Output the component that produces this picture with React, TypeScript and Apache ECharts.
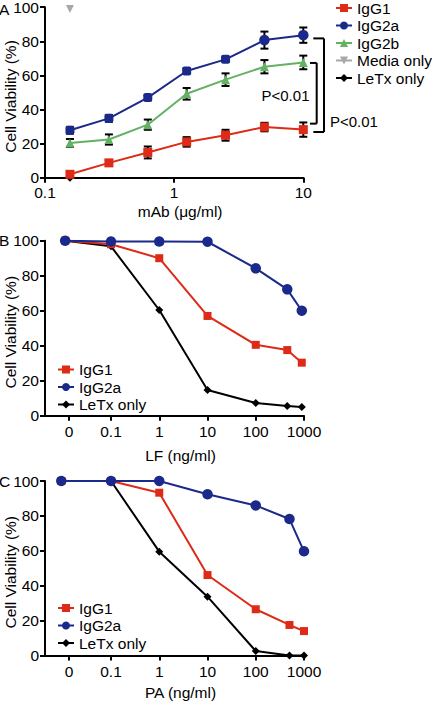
import React, { useEffect, useRef } from "react";
import * as echarts from "echarts";

const FONT = "'Liberation Sans', Arial, Helvetica, sans-serif";
const FS = 15.5;
const RED = "#dd2b17";
const BLUE = "#1b2a8a";
const GREEN = "#63b163";
const GRAY = "#a8a8a8";
const BLACK = "#000000";

// Panel A: viability vs mAb concentration
const doseA = [0.156, 0.3125, 0.625, 1.25, 2.5, 5, 10];
const igg1A = [2, 8.7, 14.8, 21, 24.9, 29.7, 28.2];
const igg1AErr = [1.5, 1.5, 3.5, 2.8, 3.2, 2.5, 4.2];
const igg2aA = [27.8, 34.8, 47, 62.6, 69.4, 80.7, 83.6];
const igg2aAErr = [2, 2, 1.5, 1.5, 1.5, 5, 4.5];
const igg2bA = [20.4, 22.4, 31.1, 49.2, 57.5, 65.1, 67.6];
const igg2bAErr = [2.3, 3, 3, 3.4, 3.7, 3.9, 4];
const mediaDoseA = [0.156];
const mediaA = [99];
const letxDoseA = [0.156];
const letxA = [0];
const bracketTop = [81.7, 67.3];
const bracketBottom = [26.8, 31.7];
const pLabelY = [32.7, 48.2];
const pLabels = ["P<0.01", "P<0.01"];

// Panel B: viability vs LF
const doseB = [0, 0.1, 1, 10, 100, 450, 900];
const igg1B = [100, 98, 90, 57, 40.5, 37.5, 30.3];
const igg2aB = [100, 99.5, 99.5, 99.4, 84.2, 72.2, 60];
const letxB = [100, 96.8, 60.4, 14.7, 7.3, 5.6, 5];

// Panel C: viability vs PA
const doseC = [0, 0.1, 1, 10, 100, 500, 1000];
const igg1C = [100, 100, 93.3, 46.1, 26.5, 17.5, 14];
const igg2aC = [100, 100, 100, 92.4, 86, 78.2, 59.7];
const letxC = [100, 100, 59.5, 33.7, 2.6, 0, 0];

const doseTickLabels = ["0", "0.1", "1", "10", "100", "1000"];
const yTicks = [0, 20, 40, 60, 80, 100];

// layout constants for the broken "0" position on log axes
const ZERO_TICK = -1.87;
const ZERO_PT_B = -1.95;
const ZERO_PT_C = -2.03;

const pos = (d: number, zero: number) => (d === 0 ? zero : Math.log10(d));
const tickPos = doseTickLabels.map((t) => (t === "0" ? ZERO_TICK : Math.log10(parseFloat(t))));

const axisLine = { show: true, onZero: false, lineStyle: { color: BLACK, width: 2 } };
const axisTick = { show: true, inside: false, length: 5, lineStyle: { color: BLACK, width: 2 } };
const labelStyle = { color: BLACK, fontSize: FS, fontFamily: FONT };

function yAxis(gridIndex: number) {
  return {
    type: "value",
    gridIndex,
    min: yTicks[0],
    max: yTicks[yTicks.length - 1],
    interval: 20,
    axisLine,
    axisTick,
    splitLine: { show: false },
    axisLabel: { ...labelStyle, margin: 6, lineHeight: 14 },
    name: "Cell Viability (%)",
    nameLocation: "middle",
    nameGap: 27,
    nameMoveOverlap: false,
    nameTextStyle: { ...labelStyle, padding: [0, 8, 0, 0] },
  };
}

function doseAxis(gridIndex: number, name: string, gap: number) {
  return {
    type: "value",
    gridIndex,
    min: -2.368,
    max: 3,
    axisLine,
    axisTick: { ...axisTick, customValues: tickPos },
    splitLine: { show: false },
    axisLabel: {
      ...labelStyle,
      margin: 8,
      customValues: tickPos,
      formatter: (v: number) => {
        const i = tickPos.findIndex((p) => Math.abs(p - v) < 1e-6);
        return i >= 0 ? doseTickLabels[i] : "";
      },
    },
    name,
    nameLocation: "middle",
    nameGap: gap,
    nameTextStyle: { ...labelStyle, padding: [0, 0, 0, 12] },
  };
}

function lineSeries(name: string, idx: number, data: any[], color: string, symbol: string, size: number, extra: any = {}) {
  return {
    type: "line",
    name,
    xAxisIndex: idx,
    yAxisIndex: idx,
    data,
    symbol,
    symbolSize: size,
    lineStyle: { color, width: 2 },
    itemStyle: { color },
    z: 3,
    ...extra,
  };
}

function errorSeries(x: number[], v: number[], e: number[]) {
  return {
    type: "custom",
    xAxisIndex: 0,
    yAxisIndex: 0,
    z: 2,
    clip: false,
    data: x.map((d, i) => [d, v[i] - e[i], v[i] + e[i]]),
    encode: { x: 0, y: [1, 2] },
    renderItem: (params: any, api: any) => {
      const lo = api.coord([api.value(0), api.value(1)]);
      const hi = api.coord([api.value(0), api.value(2)]);
      const st = { stroke: BLACK, lineWidth: 2 };
      const w = 4;
      return {
        type: "group",
        children: [
          { type: "line", shape: { x1: lo[0], y1: lo[1], x2: hi[0], y2: hi[1] }, style: st },
          { type: "line", shape: { x1: lo[0] - w, y1: lo[1], x2: lo[0] + w, y2: lo[1] }, style: st },
          { type: "line", shape: { x1: hi[0] - w, y1: hi[1], x2: hi[0] + w, y2: hi[1] }, style: st },
        ],
      };
    },
  };
}

const legendFmt = (n: string) => n.split("|")[0];

function legend(left: number, top: number, data: string[]) {
  return {
    orient: "vertical",
    left,
    top,
    padding: 0,
    itemWidth: 16,
    itemHeight: 10,
    itemGap: 1.5,
    formatter: legendFmt,
    textStyle: { ...labelStyle },
    data,
  };
}

export default function App() {
  const ref = useRef<HTMLDivElement>(null);
  useEffect(() => {
    if (!ref.current) return;
    const chart = echarts.init(ref.current, undefined, { renderer: "svg" });
    const lastX = doseA[doseA.length - 1];
    const option: any = {
      animation: false,
      textStyle: { fontFamily: FONT },
      grid: [
        { left: 45, top: 7.2, width: 258.3, height: 170.5, outerBoundsMode: "none", containLabel: false },
        { left: 45, top: 240.7, width: 259, height: 175, outerBoundsMode: "none", containLabel: false },
        { left: 45, top: 481, width: 259, height: 174.5, outerBoundsMode: "none", containLabel: false },
      ],
      xAxis: [
        {
          type: "log",
          logBase: 10,
          gridIndex: 0,
          min: 0.1,
          max: 10,
          axisLine,
          axisTick,
          minorTick: { show: false },
          splitLine: { show: false },
          axisLabel: { ...labelStyle, margin: 6.5, formatter: (v: number) => String(v) },
          name: "mAb (μg/ml)",
          nameLocation: "middle",
          nameGap: 26,
          nameTextStyle: { ...labelStyle, padding: [0, 0, 0, 12] },
        },
        doseAxis(1, "LF (ng/ml)", 31.5),
        doseAxis(2, "PA (ng/ml)", 29),
      ],
      yAxis: [yAxis(0), yAxis(1), yAxis(2)],
      legend: [
        legend(335, 0, ["IgG1|A", "IgG2a|A", "IgG2b|A", "Media only|A", "LeTx only|A"]),
        legend(57, 361.5, ["IgG1|B", "IgG2a|B", "LeTx only|B"]),
        legend(57, 600, ["IgG1|C", "IgG2a|C", "LeTx only|C"]),
      ],
      series: [
        errorSeries(doseA, igg1A, igg1AErr),
        errorSeries(doseA, igg2aA, igg2aAErr),
        errorSeries(doseA, igg2bA, igg2bAErr),
        lineSeries("LeTx only|A", 0, letxDoseA.map((d, i) => [d, letxA[i]]), BLACK, "diamond", 8),
        lineSeries("IgG2b|A", 0, doseA.map((d, i) => [d, igg2bA[i]]), GREEN, "triangle", 9),
        lineSeries(
          "IgG2a|A",
          0,
          doseA.map((d, i) => ({ value: [d, igg2aA[i]], symbol: i < 5 ? "roundRect" : "circle", symbolSize: i < 5 ? 9 : 10.5 })),
          BLUE,
          "circle",
          10.5
        ),
        lineSeries("IgG1|A", 0, doseA.map((d, i) => [d, igg1A[i]]), RED, "rect", 9),
        lineSeries("Media only|A", 0, mediaDoseA.map((d, i) => [d, mediaA[i]]), GRAY, "triangle", 8, { symbolRotate: 180 }),
        {
          type: "custom",
          xAxisIndex: 0,
          yAxisIndex: 0,
          clip: false,
          z: 5,
          data: bracketTop.map((t, i) => [lastX, t, bracketBottom[i], pLabelY[i]]),
          renderItem: (params: any, api: any) => {
            const i = params.dataIndex;
            const top = api.coord([api.value(0), api.value(1)]);
            const bot = api.coord([api.value(0), api.value(2)]);
            const lab = api.coord([api.value(0), api.value(3)]);
            const a = i === 0 ? 10 : 6.7;
            const b = i === 0 ? 20.7 : 13.4;
            const st = { stroke: BLACK, lineWidth: 2 };
            const x0 = top[0];
            return {
              type: "group",
              children: [
                { type: "line", shape: { x1: x0 + a, y1: top[1], x2: x0 + b, y2: top[1] }, style: st },
                { type: "line", shape: { x1: x0 + b, y1: top[1], x2: x0 + b, y2: bot[1] }, style: st },
                { type: "line", shape: { x1: x0 + a, y1: bot[1], x2: x0 + b, y2: bot[1] }, style: st },
                {
                  type: "text",
                  x: i === 0 ? x0 + 26.7 : x0 - 17.8,
                  y: lab[1],
                  style: {
                    text: pLabels[i],
                    fill: BLACK,
                    fontSize: 15,
                    fontFamily: FONT,
                    align: i === 0 ? "left" : "center",
                    verticalAlign: "middle",
                  },
                },
              ],
            };
          },
        },
        lineSeries("LeTx only|B", 1, doseB.map((d, i) => [pos(d, ZERO_PT_B), letxB[i]]), BLACK, "diamond", 8),
        lineSeries("IgG1|B", 1, doseB.map((d, i) => [pos(d, ZERO_PT_B), igg1B[i]]), RED, "rect", 8),
        lineSeries("IgG2a|B", 1, doseB.map((d, i) => [pos(d, ZERO_PT_B), igg2aB[i]]), BLUE, "circle", 10.5),
        lineSeries("LeTx only|C", 2, doseC.map((d, i) => [pos(d, ZERO_PT_C), letxC[i]]), BLACK, "diamond", 8),
        lineSeries("IgG1|C", 2, doseC.map((d, i) => [pos(d, ZERO_PT_C), igg1C[i]]), RED, "rect", 8),
        lineSeries("IgG2a|C", 2, doseC.map((d, i) => [pos(d, ZERO_PT_C), igg2aC[i]]), BLUE, "circle", 10.5),
      ],
      graphic: [
        { type: "text", left: -1, top: 1, style: { text: "A", fontSize: FS, fontFamily: FONT, fill: BLACK } },
        { type: "text", left: -1, top: 232.5, style: { text: "B", fontSize: FS, fontFamily: FONT, fill: BLACK } },
        { type: "text", left: -1, top: 473, style: { text: "C", fontSize: FS, fontFamily: FONT, fill: BLACK } },
      ],
    };
    chart.setOption(option);
    return () => chart.dispose();
  }, []);
  return <div ref={ref} style={{ position: "absolute", left: 0, top: 0, width: 432, height: 702 }} />;
}
